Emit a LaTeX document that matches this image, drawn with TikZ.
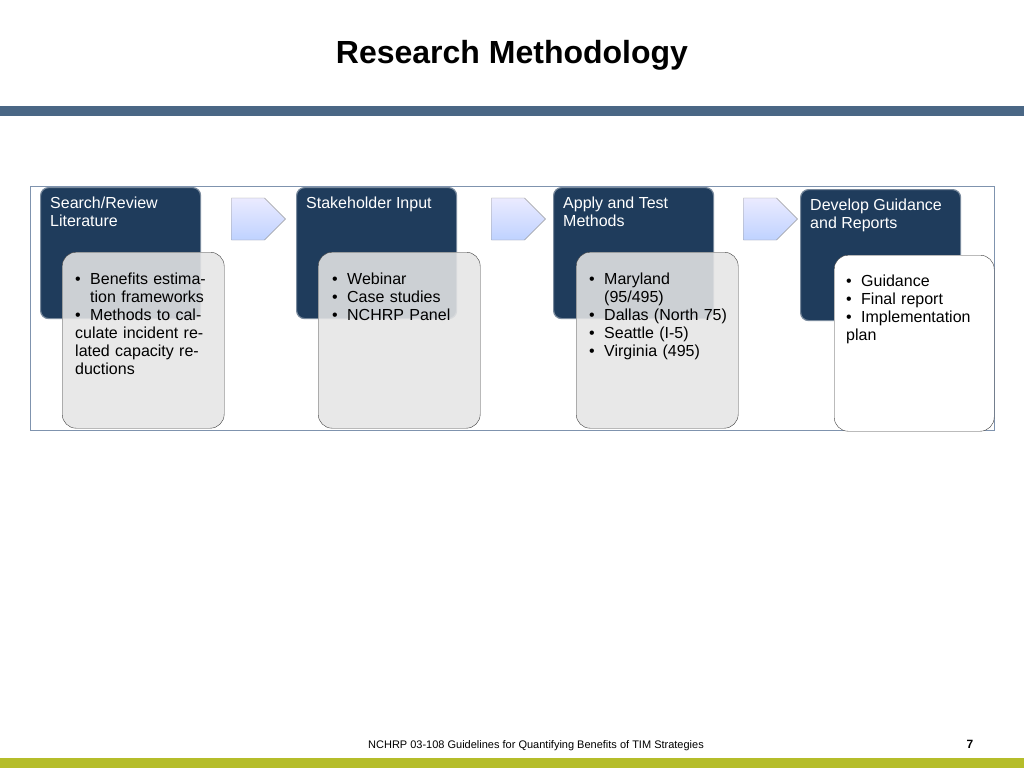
\documentclass[tikz,border=0pt]{standalone}
\usepackage{fontspec}
\setmainfont{Liberation Sans}
\usetikzlibrary{positioning}
\usetikzlibrary{shapes.arrows}
\definecolor{navy}{HTML}{1F3C5C}
\definecolor{barblue}{HTML}{4A6785}
\definecolor{barlime}{HTML}{B5BD2A}
\definecolor{framec}{HTML}{7F93AE}
\newcommand{\bul}[1]{\par\noindent\hangindent=15pt\hangafter=1\makebox[15pt][l]{\textbullet}#1}
\tikzset{x=1pt,y=-1pt,
    stagebox/.style={
        draw=navy!60,
        very thick,
        fill=navy,
        rounded corners=8pt,
        minimum width=160pt,
        minimum height=131pt,
        anchor=north west},
    stagetitle/.style={
        text=white,
        font=\fontsize{16}{18}\selectfont,
        align=left,
        anchor=north west,
        inner sep=0pt},
    listbox/.style={
        draw=black!75,
        fill=gray!20,
        fill opacity=0.88,
        text opacity=1,
        rounded corners=14pt,
        minimum width=162pt,
        minimum height=176pt,
        anchor=north west},
    listtext/.style={
        font=\fontsize{16}{18}\selectfont,
        text width=140pt,
        anchor=north west,
        inner sep=0pt},
    flowarrow/.style={
        single arrow,
        draw=gray!80,
        top color=blue!8,
        bottom color=cyan!30!blue!25,
        minimum height=54pt,
        minimum width=42pt,
        single arrow head extend=0pt,
        inner sep=4pt}}
\begin{document}
\begin{tikzpicture}
    \useasboundingbox (0,0) rectangle (1024,768);
    \fill[white] (0,0) rectangle (1024,768);

    \node[font=\fontsize{32}{36}\selectfont\bfseries] (title) at (512,55) {Research Methodology};
    \fill[barblue] (0,106) rectangle (1024,116);
    \fill[barlime] (0,758) rectangle (1024,768);

    \draw[framec] (30,186) rectangle (994,430);

    % stages
    \node[stagebox] (s1) at (40,187) {};
    \node[stagebox] (s2) at (296,187) {};
    \node[stagebox] (s3) at (553,187) {};
    \node[stagebox] (s4) at (800,189) {};
    \node[stagetitle] (t1) at (50,197) {Search/Review\\Literature};
    \node[stagetitle] (t2) at (306,197) {Stakeholder Input};
    \node[stagetitle] (t3) at (563,197) {Apply and Test\\Methods};
    \node[stagetitle] (t4) at (810,199) {Develop Guidance\\and Reports};

    % lists
    \node[listbox] (l1) at (62,252) {};
    \node[listbox] (l2) at (318,252) {};
    \node[listbox] (l3) at (576,252) {};
    \node[listbox,fill=white,fill opacity=1,minimum width=160pt] (l4) at (834,255) {};
    \node[listtext] (x1) at (75,266) {\bul{Benefits estimation frameworks}\bul{Methods to calculate incident related capacity reductions}};
    \node[listtext] (x2) at (332,266) {\bul{Webinar}\bul{Case studies}\bul{NCHRP Panel}};
    \node[listtext] (x3) at (589,266) {\bul{Maryland (95/495)}\bul{Dallas (North 75)}\bul{Seattle (I-5)}\bul{Virginia (495)}};
    \node[listtext] (x4) at (846,268) {\bul{Guidance}\bul{Final report}\bul{Implementation plan}};

    % arrows
    \node[flowarrow] (a1) at (248,219) {};
    \node[flowarrow] (a2) at (508,219) {};
    \node[flowarrow] (a3) at (760,219) {};

    \node[font=\fontsize{11}{13}\selectfont] (foot) at (536,746) {NCHRP 03-108 Guidelines for Quantifying Benefits of TIM Strategies};
    \node[font=\fontsize{12}{14}\selectfont\bfseries] (page) at (970,744) {7};
\end{tikzpicture}
\end{document}
